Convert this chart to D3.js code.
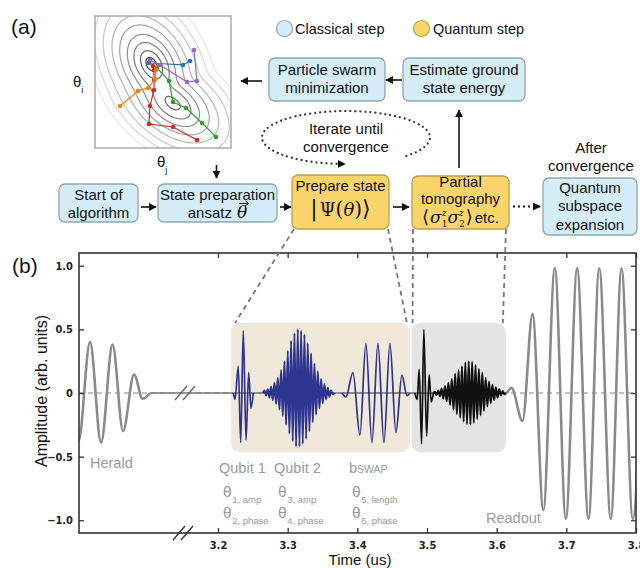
<!DOCTYPE html>
<html>
<head>
<meta charset="utf-8">
<script src="https://cdn.jsdelivr.net/npm/d3@7"></script>
<style>
  body { margin: 0; background: #fff; }
  svg { display: block; font-family: "Liberation Sans", Arial, sans-serif; }
  .tick text { font-family: "Liberation Sans Narrow", "DejaVu Sans Condensed", sans-serif; font-weight: bold; font-size: 11px; fill: #222; }
</style>
</head>
<body>
<svg id="fig" width="640" height="568"></svg>
<script>
// ---- panel (b) data ----
const yTicks = [1.0, 0.5, 0, -0.5, -1.0];
const xTicks = [3.2, 3.3, 3.4, 3.5, 3.6, 3.7, 3.8];

// herald, before the axis break: [time (ns), amplitude]
const heraldWave = [[-17, 0.38], [-0.7, -0.38], [15.8, 0.40], [31.6, -0.39], [48.1, 0.38],
  [63.1, -0.30], [78.9, 0.145], [91.1, -0.045], [101.9, 0]];
const heraldBaseline = [[101.9, 0], [149, 0]];

// after the break: [time (us), amplitude]
const mainBaseline = [[3.1498, 0], [3.6146, 0]];
const qubit1Wave = [[3.2220, 0], [3.2244, -0.05], [3.2291, 0.21], [3.2326, -0.39], [3.2363, 0.49],
  [3.2402, -0.37], [3.2440, 0.16], [3.2473, -0.12], [3.2506, 0]];
const bswapWave = [[3.3779, 0], [3.3836, -0.03], [3.3937, 0.16], [3.4037, -0.33], [3.4123, 0.39],
  [3.4210, -0.39], [3.4296, 0.39], [3.4382, -0.39], [3.4468, 0.39], [3.4554, -0.31],
  [3.4640, 0.14], [3.4712, -0.02], [3.4755, 0]];
const tomoWave = [[3.4826, 0], [3.4859, -0.05], [3.4888, 0.185], [3.4922, -0.40], [3.4955, 0.50],
  [3.4994, -0.34], [3.5031, 0.145], [3.5060, -0.07], [3.5092, 0]];
const readoutWave = [[3.6146, 0], [3.6213, 0.04], [3.6371, -0.22], [3.6515, 0.62], [3.6670, -0.92],
  [3.6835, 0.98], [3.6993, -0.99], [3.7155, 0.98], [3.7318, -0.99], [3.7473, 0.98],
  [3.7638, -0.99], [3.7792, 0.98], [3.7954, -0.99], [3.8112, 0.98]];

// fast pulses: start time, half period (us), successive extrema
const qubit2Start = 3.2667, qubit2Half = 0.00239;
const qubit2Peaks = [0.02, -0.02, 0.03, -0.035, 0.05, -0.055, 0.08, -0.085, 0.12, -0.13, 0.18, -0.18,
  0.25, -0.25, 0.33, -0.32, 0.41, -0.38, 0.47, -0.42, 0.50, -0.42, 0.49, -0.40, 0.46, -0.36,
  0.39, -0.30, 0.31, -0.23, 0.23, -0.17, 0.17, -0.12, 0.11, -0.08, 0.07, -0.05, 0.04, -0.03, 0.02, -0.01];
const tomo2Start = 3.5113, tomo2Half = 0.00243;
const tomo2Peaks = [0.01, -0.015, 0.02, -0.025, 0.035, -0.045, 0.055, -0.065, 0.08, -0.095, 0.11, -0.13,
  0.15, -0.165, 0.18, -0.195, 0.21, -0.225, 0.24, -0.245, 0.25, -0.25, 0.245, -0.235, 0.22, -0.205,
  0.19, -0.175, 0.16, -0.14, 0.12, -0.105, 0.09, -0.08, 0.065, -0.055, 0.045, -0.035, 0.03, -0.02, 0.015, -0.01];

// shaded pulse groups: [t0, t1], amplitude extent
const shadeSpans = [[3.2187, 3.4755], [3.4779, 3.6132]];
const shadeAmp = [-0.465, 0.55];

// ---- panel (a) data: cost landscape and particle swarm ----
const wellCenters = [[0.41, 0.36], [0.57, 0.66]];
const wellSpreads = [[0.11, 0.07], [0.11, 0.065]];
const wellTilts = [62, 38];
const wellWeights = [1.0, 0.7];
const contourLevels = [0.5, 1.0, 1.6, 2.2, 2.9, 3.6, 4.4, 5.2, 6.0];

const purplePath = [[0.728, 0.258], [0.75, 0.492], [0.676, 0.5], [0.478, 0.371], [0.404, 0.333]];
const bluePath = [[0.699, 0.341], [0.647, 0.371], [0.397, 0.356]];
const orangePath = [[0.184, 0.682], [0.316, 0.568], [0.39, 0.545], [0.441, 0.477], [0.449, 0.409]];
const redPath = [[0.75, 0.939], [0.574, 0.841], [0.397, 0.818], [0.404, 0.682], [0.434, 0.561],
  [0.434, 0.485], [0.434, 0.409], [0.426, 0.379]];
const greenPath = [[0.89, 0.917], [0.787, 0.811], [0.669, 0.697], [0.574, 0.652], [0.544, 0.492], [0.456, 0.394]];
const swarm = [greenPath, redPath, orangePath, bluePath, purplePath];
const swarmColors = ['#2ca02c', '#d62728', '#ff7f0e', '#1f77b4', '#9467bd'];

// ---------------------------------------------------------------
const svg = d3.select('#fig');
const defs = svg.append('defs');
const blueFill = '#d5edf8', blueLine = '#8ea6b2', yelFill = '#fbd56b', yelLine = '#bc9d4e';
const serif = '"DejaVu Serif", "Liberation Serif", serif';

defs.append('marker').attr('id', 'arr').attr('viewBox', '0 0 10 10')
  .attr('refX', 9).attr('refY', 5).attr('markerWidth', 8).attr('markerHeight', 8)
  .attr('markerUnits', 'userSpaceOnUse').attr('orient', 'auto')
  .append('path').attr('d', 'M0,0L10,5L0,10z').attr('fill', '#111');

// ================= panel (b) =================
const frame = {l: 79, r: 636, t: 253, b: 533, brk: 183};
const x = d3.scaleLinear().domain([3.2, 3.8]).range([218, frame.r]);
const xH = d3.scaleLinear().domain([0, 149]).range([frame.l, frame.brk]);
const y = d3.scaleLinear().domain([-1.1, 1.1]).range([frame.b, frame.t]);

defs.append('clipPath').attr('id', 'plotClip').append('rect')
  .attr('x', frame.l).attr('y', frame.t).attr('width', frame.r - frame.l).attr('height', frame.b - frame.t);

const gb = svg.append('g');

gb.selectAll('rect.shade').data(shadeSpans).enter().append('rect')
  .attr('class', 'shade')
  .attr('x', d => x(d[0])).attr('width', d => x(d[1]) - x(d[0]))
  .attr('y', y(shadeAmp[1])).attr('height', y(shadeAmp[0]) - y(shadeAmp[1]))
  .attr('rx', 9)
  .attr('fill', (d, i) => i === 0 ? '#f0e8d8' : '#e4e4e4');

const waves = gb.append('g').attr('clip-path', 'url(#plotClip)');

waves.append('line')
  .attr('x1', frame.l).attr('x2', frame.r).attr('y1', y(0)).attr('y2', y(0))
  .attr('stroke', '#888').attr('stroke-width', 1.1).attr('stroke-dasharray', '5,4');

const line = d3.line().x(d => x(d[0])).y(d => y(d[1])).curve(d3.curveMonotoneX);
const lineH = d3.line().x(d => xH(d[0])).y(d => y(d[1])).curve(d3.curveMonotoneX);

function train(start, half, peaks) {
  const pts = [[start - half, 0]];
  peaks.forEach((a, i) => pts.push([start + i * half, a]));
  pts.push([start + peaks.length * half, 0]);
  return pts;
}

waves.append('path').attr('d', lineH(heraldBaseline)).attr('fill', 'none').attr('stroke', '#777').attr('stroke-width', 1.3);
waves.append('path').attr('d', line(mainBaseline)).attr('fill', 'none').attr('stroke', '#777').attr('stroke-width', 1.3);
waves.append('path').attr('d', lineH(heraldWave)).attr('fill', 'none').attr('stroke', '#8a8a8a').attr('stroke-width', 2.6);
waves.append('path').attr('d', line(readoutWave)).attr('fill', 'none').attr('stroke', '#8a8a8a').attr('stroke-width', 2.6);

const navy = '#2d3590';
waves.append('path').attr('d', line(qubit1Wave)).attr('fill', 'none').attr('stroke', navy).attr('stroke-width', 1.7);
waves.append('path').attr('d', line(train(qubit2Start, qubit2Half, qubit2Peaks))).attr('fill', 'none').attr('stroke', navy).attr('stroke-width', 2.1);
waves.append('path').attr('d', line(bswapWave)).attr('fill', 'none').attr('stroke', navy).attr('stroke-width', 1.7);
waves.append('path').attr('d', line(tomoWave)).attr('fill', 'none').attr('stroke', '#111').attr('stroke-width', 1.7);
waves.append('path').attr('d', line(train(tomo2Start, tomo2Half, tomo2Peaks))).attr('fill', 'none').attr('stroke', '#111').attr('stroke-width', 2.1);

// axes (ticks point inward)
gb.append('g').attr('transform', `translate(${frame.l},0)`)
  .call(d3.axisLeft(y).tickValues(yTicks).tickSize(-5).tickSizeOuter(0).tickPadding(6)
    .tickFormat(d => d === 0 ? '0' : d3.format('.1f')(d)))
  .call(g => g.select('.domain').remove());
gb.append('g').attr('transform', `translate(${frame.r},0)`)
  .call(d3.axisRight(y).tickValues(yTicks).tickSize(-5).tickSizeOuter(0).tickFormat(''))
  .call(g => g.select('.domain').remove());
gb.append('g').attr('transform', `translate(0,${frame.b})`)
  .call(d3.axisBottom(x).tickValues(xTicks).tickSize(-5).tickSizeOuter(0).tickPadding(8).tickFormat(d3.format('.1f')))
  .call(g => g.select('.domain').remove());
gb.append('g').attr('transform', `translate(0,${frame.t})`)
  .call(d3.axisTop(x).tickValues(xTicks).tickSize(-5).tickSizeOuter(0).tickFormat(''))
  .call(g => g.select('.domain').remove());
gb.selectAll('.tick line').attr('stroke', '#333').attr('stroke-width', 1.3);

gb.append('rect').attr('x', frame.l).attr('y', frame.t)
  .attr('width', frame.r - frame.l).attr('height', frame.b - frame.t)
  .attr('fill', 'none').attr('stroke', '#333').attr('stroke-width', 1.6);

// axis break marks
function breakMark(cx, cy, color) {
  [-4, 4].forEach(o => {
    gb.append('line').attr('x1', cx + o - 6).attr('y1', cy + 7).attr('x2', cx + o + 6).attr('y2', cy - 7)
      .attr('stroke', color).attr('stroke-width', 1.4);
  });
}
breakMark(frame.brk, frame.b, '#333');
breakMark(frame.brk + 2, y(0), '#666');

gb.append('text').attr('transform', `translate(47,391) rotate(-90)`)
  .attr('text-anchor', 'middle').attr('font-size', 16).attr('fill', '#111').text('Amplitude (arb. units)');
gb.append('text').attr('x', 360).attr('y', 565).attr('text-anchor', 'middle')
  .attr('font-size', 15).attr('fill', '#111').text('Time (us)');

// math-ish text rows built from pieces
function mathRow(g, x0, yb, pieces, anchor) {
  const row = g.append('g');
  let cur = 0;
  pieces.forEach(p => {
    const t = row.append('text').attr('x', cur).attr('y', yb).attr('font-size', p.size)
      .attr('font-family', p.serif ? serif : null)
      .attr('font-style', p.italic ? 'italic' : null)
      .attr('fill', p.fill || '#111').text(p.text);
    let w = t.node().getComputedTextLength();
    let extra = 0;
    if (p.sub) {
      const s = row.append('text').attr('x', cur + w + (p.subDx || 0)).attr('y', yb + (p.subDy || p.size * 0.28))
        .attr('font-size', p.subSize).attr('fill', p.fill || '#111')
        .attr('font-family', p.subSerif ? serif : null).text(p.sub);
      extra = Math.max(extra, s.node().getComputedTextLength() + (p.subDx || 0));
    }
    if (p.sup) {
      const s = row.append('text').attr('x', cur + w + (p.subDx || 0)).attr('y', yb - p.size * 0.42)
        .attr('font-size', p.subSize).attr('font-style', 'italic').attr('font-family', serif)
        .attr('fill', p.fill || '#111').text(p.sup);
      extra = Math.max(extra, s.node().getComputedTextLength() + (p.subDx || 0));
    }
    if (p.vec) {
      const vy = yb - p.size * 0.86;
      row.append('line').attr('x1', cur + 2).attr('x2', cur + w + 1).attr('y1', vy).attr('y2', vy)
        .attr('stroke', '#111').attr('stroke-width', 1);
      row.append('path').attr('d', `M${cur + w - 2},${vy - 2.5}L${cur + w + 1.5},${vy}L${cur + w - 2},${vy + 2.5}`)
        .attr('fill', 'none').attr('stroke', '#111').attr('stroke-width', 1);
    }
    cur += w + extra + (p.gap || 0);
  });
  const shift = anchor === 'start' ? x0 : x0 - cur / 2;
  row.attr('transform', `translate(${shift},0)`);
  return row;
}

// pulse labels
const gray = '#9a9a9a';
function grayText(x0, yb, s, size) {
  return gb.append('text').attr('x', x0).attr('y', yb).attr('font-size', size || 14.5).attr('fill', gray).text(s);
}
grayText(90, 468, 'Herald');
grayText(219, 473, 'Qubit 1');
grayText(274, 473, 'Qubit 2');
grayText(486, 523, 'Readout');
const bs = grayText(349, 473, 'b');
bs.append('tspan').attr('font-size', 10.5).text('SWAP');

const thetaLabels = [[223, 497, '1, amp'], [223, 518, '2, phase'], [278, 497, '3, amp'],
  [278, 518, '4, phase'], [352, 497, '5, length'], [352, 518, '6, phase']];
thetaLabels.forEach(d => {
  mathRow(gb, d[0], d[1], [{text: 'θ', size: 15.5, fill: gray, sub: d[2], subSize: 9.5, subDy: 6, subDx: 0.5}], 'start');
});

// ================= panel (a) =================
const ga = svg.append('g');

ga.append('text').attr('x', 11).attr('y', 34).attr('font-size', 21).attr('fill', '#111').text('(a)');
ga.append('text').attr('x', 12).attr('y', 273).attr('font-size', 21).attr('fill', '#111').text('(b)');

// legend
ga.append('circle').attr('cx', 284.5).attr('cy', 28.5).attr('r', 8).attr('fill', blueFill).attr('stroke', blueLine).attr('stroke-width', 1.2);
ga.append('text').attr('x', 295).attr('y', 34).attr('font-size', 14.5).attr('fill', '#111').text('Classical step');
ga.append('circle').attr('cx', 421.5).attr('cy', 28.5).attr('r', 8).attr('fill', yelFill).attr('stroke', yelLine).attr('stroke-width', 1.2);
ga.append('text').attr('x', 433).attr('y', 34).attr('font-size', 14.5).attr('fill', '#111').text('Quantum step');

// contour inset
const inset = {x: 95, y: 16, w: 136, h: 132};
const cu = d3.scaleLinear().domain([0, 1]).range([inset.x, inset.x + inset.w]);
const cv = d3.scaleLinear().domain([0, 1]).range([inset.y, inset.y + inset.h]);
defs.append('clipPath').attr('id', 'insetClip').append('rect')
  .attr('x', inset.x).attr('y', inset.y).attr('width', inset.w).attr('height', inset.h);

// landscape: distance-like cost from two tilted wells
const g0 = -0.4, step = 0.01, n = 181;
const grid = new Float64Array(n * n);
for (let j = 0; j < n; j++) {
  for (let i = 0; i < n; i++) {
    const u = g0 + i * step, v = g0 + j * step;
    let s = 0;
    wellCenters.forEach((c, k) => {
      const a = wellTilts[k] * Math.PI / 180;
      const du = u - c[0], dv = v - c[1];
      const p = du * Math.cos(a) + dv * Math.sin(a);
      const q = -du * Math.sin(a) + dv * Math.cos(a);
      s += wellWeights[k] * Math.exp(-0.5 * (p * p / (wellSpreads[k][0] ** 2) + q * q / (wellSpreads[k][1] ** 2)));
    });
    grid[j * n + i] = Math.sqrt(Math.max(0, -2 * Math.log(s)));
  }
}
const contours = d3.contours().size([n, n]).thresholds(contourLevels)(grid);
const proj = d3.geoPath(d3.geoTransform({
  point(px, py) { this.stream.point(cu(g0 + px * step), cv(g0 + py * step)); }
}));
const lo = contourLevels[0], hi = contourLevels[contourLevels.length - 1];
const shade = v => d3.interpolateRgb('#3c3c3c', '#e6e6e6')(Math.pow((v - lo) / (hi - lo), 0.6));

const gi = ga.append('g').attr('clip-path', 'url(#insetClip)');
gi.append('rect').attr('x', inset.x).attr('y', inset.y).attr('width', inset.w).attr('height', inset.h).attr('fill', '#fff');
gi.selectAll('path.ct').data(contours).enter().append('path')
  .attr('class', 'ct').attr('d', proj).attr('fill', 'none')
  .attr('stroke', d => shade(d.value)).attr('stroke-width', 1.2);

const sLine = d3.line().x(d => cu(d[0])).y(d => cv(d[1]));
swarm.forEach((p, k) => {
  gi.append('path').attr('d', sLine(p)).attr('fill', 'none').attr('stroke', swarmColors[k]).attr('stroke-width', 1.2);
  gi.selectAll(null).data(p).enter().append('circle')
    .attr('cx', d => cu(d[0])).attr('cy', d => cv(d[1])).attr('r', 2.3).attr('fill', swarmColors[k]);
});
ga.append('rect').attr('x', inset.x).attr('y', inset.y).attr('width', inset.w).attr('height', inset.h)
  .attr('fill', 'none').attr('stroke', '#aaa').attr('stroke-width', 1.5);

mathRow(ga, 73, 87, [{text: 'θ', size: 15, sub: 'i', subSize: 9, subDy: 6}], 'start');
mathRow(ga, 157, 167, [{text: 'θ', size: 15, sub: 'j', subSize: 9, subDy: 6}], 'start');

// flow boxes
function box(x0, y0, w, h, quantum) {
  ga.append('rect').attr('x', x0).attr('y', y0).attr('width', w).attr('height', h).attr('rx', 6)
    .attr('fill', quantum ? yelFill : blueFill).attr('stroke', quantum ? yelLine : blueLine).attr('stroke-width', 1.3);
}
function lines(cx, ys, strs, size) {
  strs.forEach((s, i) => ga.append('text').attr('x', cx).attr('y', ys[i]).attr('text-anchor', 'middle')
    .attr('font-size', size || 15).attr('fill', '#111').text(s));
}

box(269, 58, 116, 43, false); lines(327, [75, 93], ['Particle swarm', 'minimization']);
box(403, 58, 122, 43, false); lines(464, [75, 93], ['Estimate ground', 'state energy']);
box(59, 184, 79, 38, false); lines(98.5, [200, 218], ['Start of', 'algorithm']);
box(158, 184, 119, 38, false); lines(217.5, [200], ['State preparation']);
mathRow(ga, 217.5, 218, [{text: 'ansatz', size: 15, gap: 5}, {text: 'θ', size: 17, serif: true, italic: true, vec: true}]);
box(292, 175, 97, 54, true); lines(340.5, [191], ['Prepare state']);
mathRow(ga, 340.5, 216, [{text: '|', size: 22, serif: true, gap: 2}, {text: 'Ψ', size: 18, serif: true},
  {text: '(', size: 20, serif: true}, {text: 'θ', size: 18, serif: true, italic: true}, {text: ')', size: 20, serif: true},
  {text: '⟩', size: 22, serif: true}]);
box(412, 176, 97, 53, true); lines(460.5, [187, 204], ['Partial', 'tomography']);
mathRow(ga, 460.5, 223, [{text: '⟨', size: 18, serif: true, gap: 1},
  {text: 'σ', size: 17, serif: true, italic: true, sub: '1', sup: 'z', subSize: 9, subSerif: true, subDy: 4},
  {text: 'σ', size: 17, serif: true, italic: true, sub: '2', sup: 'z', subSize: 9, subSerif: true, subDy: 4, gap: 1},
  {text: '⟩', size: 18, serif: true, gap: 2}, {text: 'etc.', size: 15}]);
box(543, 178, 94, 57, false); lines(590, [193, 211, 230], ['Quantum', 'subspace', 'expansion']);
lines(591, [153, 171], ['After', 'convergence']);
lines(346, [134, 152], ['Iterate until', 'convergence']);

// arrows
function arrow(x1, y1, x2, y2, dotted) {
  ga.append('line').attr('x1', x1).attr('y1', y1).attr('x2', x2).attr('y2', y2)
    .attr('stroke', '#111').attr('stroke-width', dotted ? 2 : 1.6)
    .attr('stroke-dasharray', dotted ? '2,3' : null)
    .attr('marker-end', 'url(#arr)');
}
arrow(262, 81, 241, 81);
arrow(402, 80, 386, 80);
arrow(459, 168, 459, 110);
arrow(216.5, 165, 216.5, 178);
arrow(141, 207, 156, 207);
arrow(280, 207, 291, 207);
arrow(393, 207, 409, 207);
arrow(513, 206.5, 540, 206.5, true);

// iteration loop (dotted ellipse)
const el = {cx: 346, cy: 137.5, rx: 84, ry: 26.5};
const a0 = 45 * Math.PI / 180;
ga.append('path')
  .attr('d', `M${el.cx + el.rx * Math.cos(a0)},${el.cy + el.ry * Math.sin(a0)} A${el.rx},${el.ry} 0 1 0 ${el.cx - 1},${el.cy + el.ry}`)
  .attr('fill', 'none').attr('stroke', '#333').attr('stroke-width', 2)
  .attr('stroke-dasharray', '2,3').attr('marker-end', 'url(#arr)');

// dashed connectors from the quantum boxes down to the pulse groups
const conn = [[294, 229, x(shadeSpans[0][0]) + 4, y(shadeAmp[1])], [388, 229, x(shadeSpans[0][1]) - 3, y(shadeAmp[1])],
  [413, 229, x(shadeSpans[1][0]) + 1, y(shadeAmp[1])], [506, 229, x(shadeSpans[1][1]) - 3, y(shadeAmp[1])]];
conn.forEach(c => {
  svg.append('line').attr('x1', c[0]).attr('y1', c[1]).attr('x2', c[2]).attr('y2', c[3])
    .attr('stroke', '#777').attr('stroke-width', 1.8).attr('stroke-dasharray', '5,4');
});
</script>
</body>
</html>
